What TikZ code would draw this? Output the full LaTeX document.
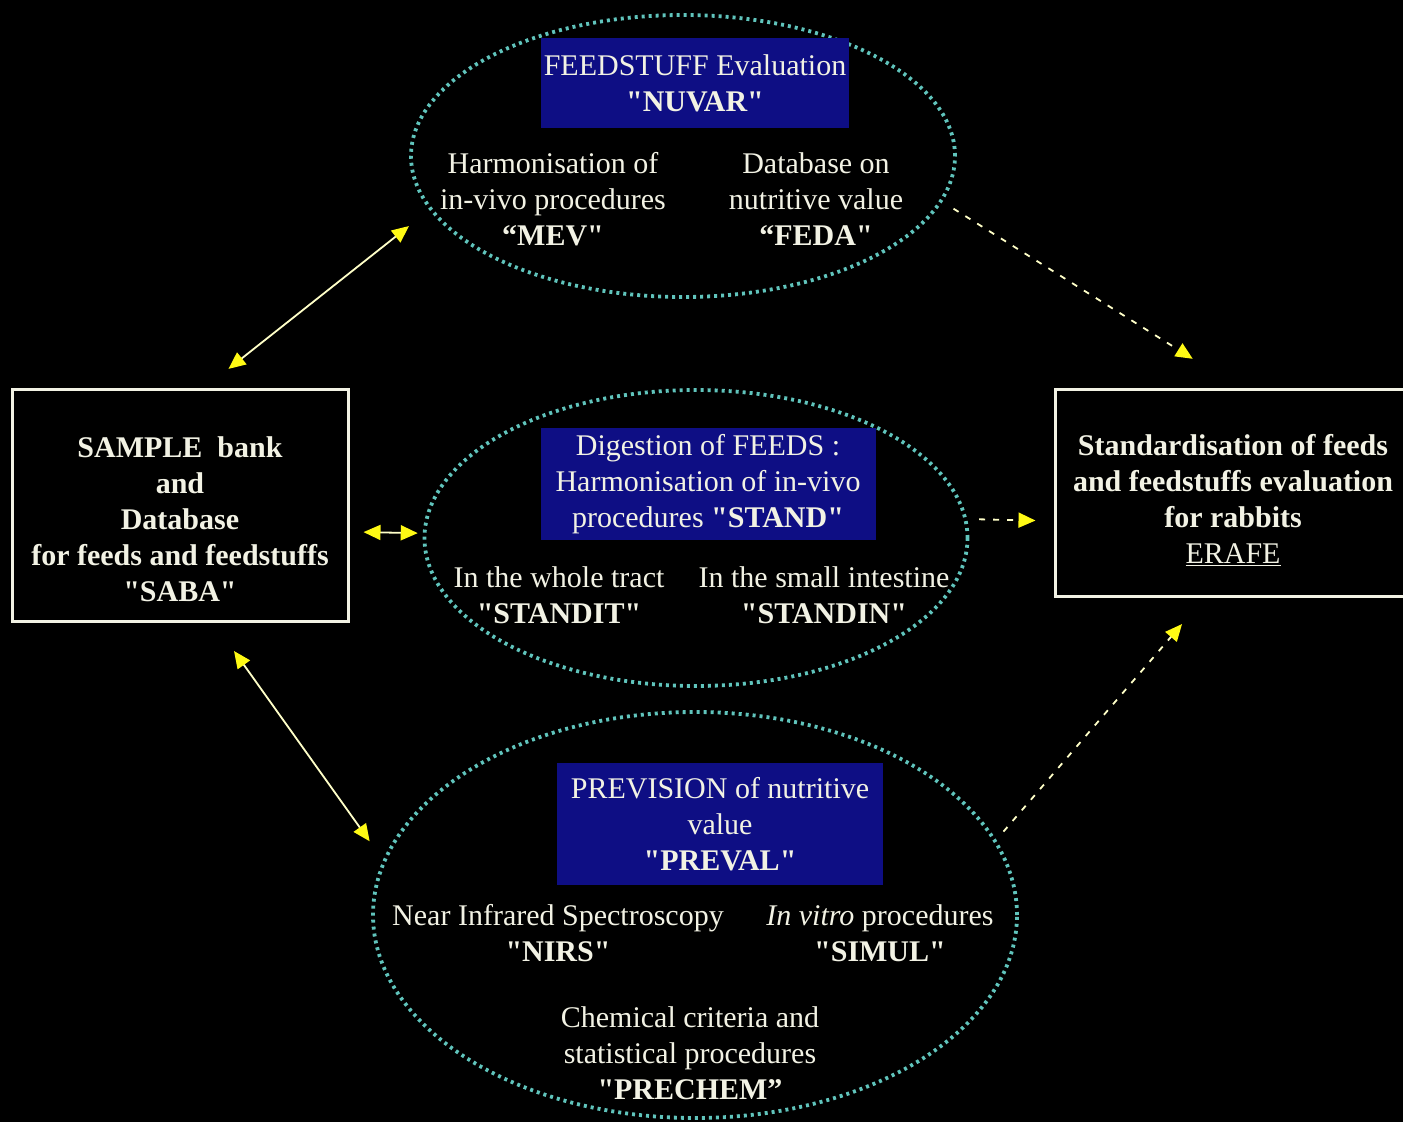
\documentclass[tikz,border=0pt]{standalone}
\usepackage{fontspec}
\setmainfont{Liberation Serif}[Ligatures=TeXOff]
\usetikzlibrary{shapes.geometric,arrows.meta}
\definecolor{navybox}{RGB}{14,14,132}
\definecolor{dotcyan}{RGB}{96,196,188}
\definecolor{paper}{RGB}{242,242,228}
\definecolor{tipyellow}{RGB}{255,250,20}
\definecolor{linecream}{RGB}{255,255,200}

\begin{document}
\begin{tikzpicture}[x=1pt, y=-1pt, >={Triangle[length=17pt,width=15pt,color=tipyellow]},
  txt/.style={text=paper, align=center, inner sep=0pt, font=\fontsize{30}{36}\selectfont},
  boldtxt/.style={txt, font=\fontsize{30}{36}\selectfont\bfseries},
  titlebox/.style={txt, fill=navybox},
  framebox/.style={draw=paper, line width=3pt, inner sep=0pt},
  dotring/.style={ellipse, draw=dotcyan, line width=3.8pt, dash pattern=on 3pt off 4pt, inner sep=0pt},
  link/.style={draw=linecream, line width=1.8pt, <->},
  dashlink/.style={draw=linecream, line width=1.8pt, dash pattern=on 6pt off 8pt, ->}]

\useasboundingbox (0,0) rectangle (1403,1122);
\fill[black] (0,0) rectangle (1403,1122);

% the three working groups
\node[dotring, minimum width=544pt, minimum height=282pt] (nuvar) at (683,156) {};
\node[dotring, minimum width=543pt, minimum height=296pt] (stand) at (696,538) {};
\node[dotring, minimum width=644pt, minimum height=406pt] (preval) at (695,915) {};

\node[titlebox, minimum width=308pt, minimum height=90pt] (nuvartitle) at (695,83) {FEEDSTUFF Evaluation\\\textbf{"NUVAR"}};
\node[txt] (mev) at (553,199) {Harmonisation of\\in-vivo procedures\\\textbf{“MEV"}};
\node[txt] (feda) at (816,199) {Database on\\nutritive value\\\textbf{“FEDA"}};

\node[titlebox, minimum width=335pt, minimum height=112pt] (standtitle) at (708,484) {Digestion of FEEDS :\\Harmonisation of in-vivo\\procedures \textbf{"STAND"}};
\node[txt] (standit) at (559,595) {In the whole tract\\\textbf{"STANDIT"}};
\node[txt] (standin) at (824,595) {In the small intestine\\\textbf{"STANDIN"}};

\node[titlebox, minimum width=326pt, minimum height=122pt] (prevaltitle) at (720,824) {PREVISION of nutritive\\value\\\textbf{"PREVAL"}};
\node[txt] (nirs) at (558,933) {Near Infrared Spectroscopy\\\textbf{"NIRS"}};
\node[txt] (simul) at (880,933) {\textit{In vitro} procedures\\\textbf{"SIMUL"}};
\node[txt] (prechem) at (690,1053) {Chemical criteria and\\statistical procedures\\\textbf{"PRECHEM”}};

% sample bank and final goal
\node[framebox, minimum width=336pt, minimum height=232pt] (saba) at (180,505) {};
\node[boldtxt] (sabatext) at (180,519) {SAMPLE\ \ bank\\and\\Database\\for feeds and feedstuffs\\"SABA"};
\node[framebox, minimum width=356pt, minimum height=207pt] (erafe) at (1233,492.5) {};
\node[boldtxt] (erafetext) at (1233,500) {Standardisation of feeds\\and feedstuffs evaluation\\for rabbits\\\mdseries\underline{ERAFE}};

% links
\draw[link, shorten <=30pt, shorten >=26pt] (saba.78) -- (nuvar.192);
\draw[link, shorten <=14pt, shorten >=5pt] (saba.351) -- (stand.179);
\draw[link, shorten <=35pt, shorten >=23pt] (saba.286) -- (preval.170);
\draw[dashlink, shorten <=13pt, shorten >=54pt] (nuvar.350) -- (erafe.87);
\draw[dashlink, shorten <=12pt, shorten >=18pt] (stand.4) -- (erafe.189);
\draw[dashlink, shorten <=11pt, shorten >=35pt] (preval.14) -- (erafe.255);

\end{tikzpicture}
\end{document}
